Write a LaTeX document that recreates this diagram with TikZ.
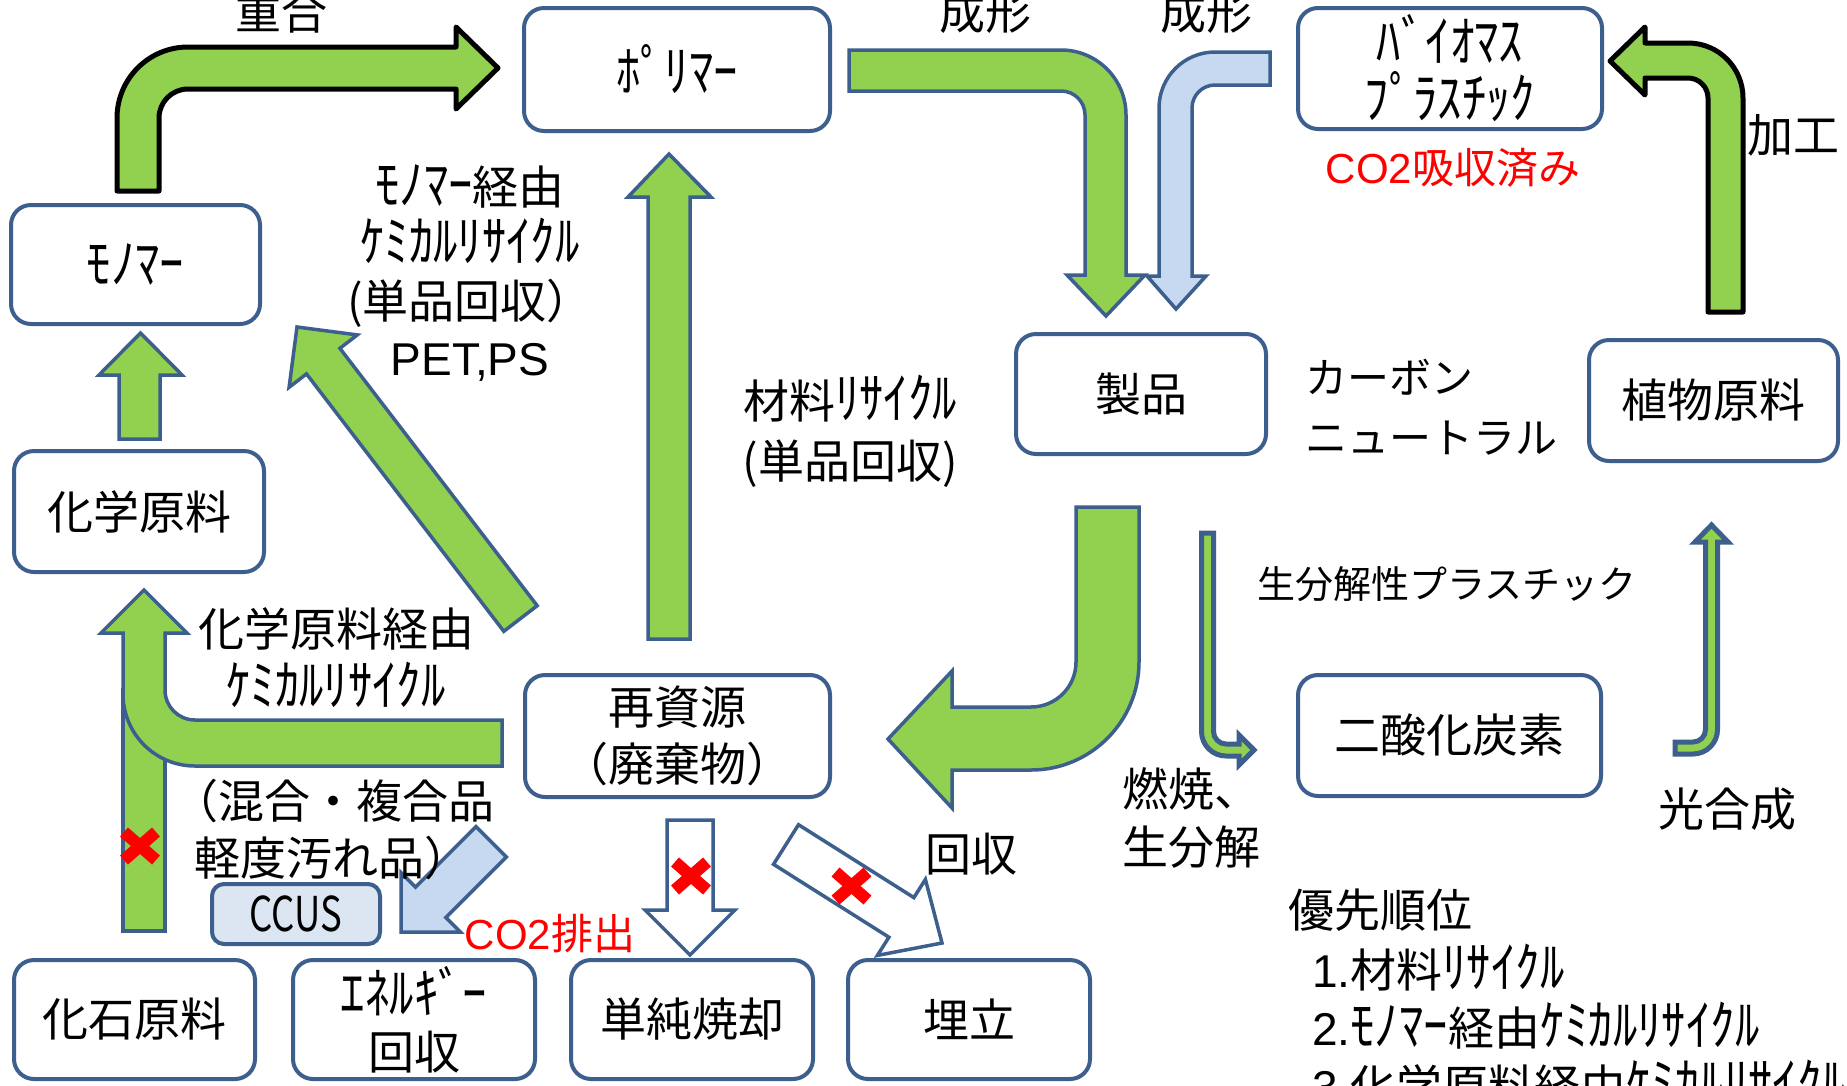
\documentclass[tikz,border=0pt]{standalone}
\usepackage{fontspec}
\usepackage{graphicx}
\setmainfont{Noto Sans CJK JP}
\newfontfamily\lat{Liberation Sans}
\definecolor{bd}{HTML}{3D5F8E}
\definecolor{gr}{HTML}{92D050}
\definecolor{lb}{HTML}{C6D9F1}
\definecolor{ccusfill}{HTML}{DCE6F2}
\newcommand\fsz[2]{\fontsize{#1}{#2}\selectfont}
\newcommand\hw[1]{\scalebox{1.06}[1.2]{#1}}
\begin{document}
\begin{tikzpicture}[x=1pt,y=-1pt,
  box/.style={draw=bd, line width=4pt, rounded corners=20pt, fill=white, inner sep=0pt, align=center, font=\fsz{46}{57}},
  lbl/.style={inner sep=0pt, align=center, font=\fsz{46}{57}},
  garrow/.style={draw=bd, fill=gr, line width=3.5pt, line join=miter},
  karrow/.style={draw=black, fill=gr, line width=5pt, line join=round},
  warrow/.style={draw=bd, fill=white, line width=3.5pt, line join=miter},
  barrow/.style={draw=bd, fill=lb, line width=3.5pt, line join=miter},
  xmark/.style={draw=red, line width=12pt},
]
\useasboundingbox (0,0) rectangle (1847,1085);
\fill[white] (0,0) rectangle (1847,1085);

% --- block arrows ---
% polymerisation (monomer -> polymer)
\draw[karrow] (117,191) -- (117,118) .. controls (117,78.8) and (148.8,47) .. (188,47) -- (456,47) -- (456,27) -- (498,68) -- (456,109) -- (456,89) -- (188,89) .. controls (172,89) and (159,102) .. (159,118) -- (159,191) -- cycle;
% moulding polymer -> product
\draw[garrow] (849,50) -- (1061,50) .. controls (1096.9,50) and (1126,79.1) .. (1126,115) -- (1126,275) -- (1145,275) -- (1106,316) -- (1067,275) -- (1085,275) -- (1085,115) .. controls (1085,101.7) and (1074.3,91) .. (1061,91) -- (849,91) -- cycle;
% moulding bioplastic -> product
\draw[barrow] (1270,52) -- (1215,52) .. controls (1184.1,52) and (1159,77.1) .. (1159,108) -- (1159,276) -- (1147,276) -- (1176,309) -- (1206,276) -- (1192,276) -- (1192,108) .. controls (1192,95.3) and (1202.3,85) .. (1215,85) -- (1270,85) -- cycle;
% processing plant -> bioplastic
\draw[karrow] (1708,312) -- (1708,98) .. controls (1708,87) and (1699,78) .. (1688,78) -- (1645,78) -- (1645,95) -- (1610,61) -- (1645,27) -- (1645,43) -- (1688,43) .. controls (1718.4,43) and (1743,67.6) .. (1743,98) -- (1743,312) -- cycle;
% collection product -> waste
\draw[garrow] (1076,507) -- (1139,507) -- (1139,662) .. controls (1139,721.6) and (1090.6,770) .. (1031,770) -- (952,770) -- (952,808) -- (888,739) -- (952,671) -- (952,707) -- (1031,707) .. controls (1055.9,707) and (1076,686.9) .. (1076,662) -- cycle;
% material recycling waste -> polymer
\draw[garrow] (648,639) -- (648,197) -- (628,197) -- (669,154) -- (711,197) -- (690,197) -- (690,639) -- cycle;
% monomer chemical recycling
\draw[garrow] (503.8,631.3) -- (306.5,373.9) -- (289.1,387.3) -- (297,327) -- (357.3,334.9) -- (339.9,348.3) -- (537.2,605.7) -- cycle;
% fossil -> chemical feedstock shaft
\draw[garrow] (123,931) -- (123,690) -- (165,690) -- (165,931) -- cycle;
% chemical feedstock recycling
\draw[garrow] (502,720) -- (195,720) .. controls (178.4,720) and (165,706.6) .. (165,690) -- (165,633) -- (187,633) -- (144,590) -- (101,633) -- (123,633) -- (123,694) .. controls (123,733.8) and (155.2,766) .. (195,766) -- (502,766) -- cycle;
% chemical feedstock -> monomer
\draw[garrow] (119,439) -- (119,375) -- (99,375) -- (140.5,333) -- (182,375) -- (160,375) -- (160,439) -- cycle;
% CCUS arrow
\draw[barrow] (476,826.6) -- (506.4,857) -- (445.9,917.5) -- (460.4,932) -- (401,932) -- (401,872.6) -- (415.5,887.1) -- cycle;
% incineration
\draw[warrow] (667,820) -- (713,820) -- (713,910) -- (735,910) -- (690,955) -- (645,910) -- (667,910) -- cycle;
% landfill
\draw[warrow] (798.5,824.7) -- (913.9,897.6) -- (925.4,879.4) -- (942,943) -- (877.4,955.4) -- (888.9,937.2) -- (773.5,864.3) -- cycle;
% thin arrows
\draw[garrow, line width=5pt] (1201.5,533) -- (1201.5,731.5) .. controls (1201.5,745) and (1212.5,756) .. (1226,756) -- (1239,756) -- (1239,765) -- (1254,750) -- (1239,735) -- (1239,744) -- (1226,744) .. controls (1219.1,744) and (1213.5,738.4) .. (1213.5,731.5) -- (1213.5,533) -- cycle;
\draw[garrow, line width=5pt] (1675,742) -- (1693,742) .. controls (1699.9,742) and (1705.5,736.4) .. (1705.5,729.5) -- (1705.5,542) -- (1695,542) -- (1711.5,525) -- (1728,542) -- (1717.5,542) -- (1717.5,729.5) .. controls (1717.5,743) and (1706.5,754) .. (1693,754) -- (1675,754) -- cycle;

% red crosses
\foreach \cx/\cy in {140/846, 691/876, 851.5/886}{
  \draw[xmark] (\cx-16,\cy-14) -- (\cx+16,\cy+14) (\cx-16,\cy+14) -- (\cx+16,\cy-14);
}

% --- boxes ---
\node[box, minimum width=306pt, minimum height=123pt] (poly) at (677,69.5) {\hw{ﾎﾟﾘﾏｰ}};
\node[box, minimum width=304pt, minimum height=121pt] (bio) at (1450,68.5) {\hw{ﾊﾞｲｵﾏｽ}\\\hw{ﾌﾟﾗｽﾁｯｸ}};
\node[box, minimum width=249pt, minimum height=119pt] (mono) at (135.5,264.5) {\hw{ﾓﾉﾏｰ}};
\node[box, minimum width=250pt, minimum height=120pt] (prod) at (1141,394) {製品};
\node[box, minimum width=249pt, minimum height=121pt] (plant) at (1713.5,400.5) {植物原料};
\node[box, minimum width=250pt, minimum height=121pt] (chem) at (139,511.5) {化学原料};
\node[box, minimum width=305pt, minimum height=122pt] (waste) at (677.5,736) {再資源\\（廃棄物）};
\node[box, minimum width=303pt, minimum height=121pt] (co2) at (1449.5,735.5) {二酸化炭素};
\node[box, fill=ccusfill, rounded corners=12pt, minimum width=168pt, minimum height=60pt] (ccus) at (296,914) {\fsz{48}{48}\scalebox{0.76}[1]{CCUS}};
\node[box, minimum width=241pt, minimum height=119pt] (fossil) at (134.5,1019.5) {化石原料};
\node[box, minimum width=242pt, minimum height=119pt, font=\fsz{46}{56}] (energy) at (414,1019.5) {\hw{ｴﾈﾙｷﾞｰ}\\回収};
\node[box, minimum width=242pt, minimum height=119pt] (incin) at (692,1019.5) {単純焼却};
\node[box, minimum width=242pt, minimum height=119pt] (land) at (969,1019.5) {埋立};

% --- labels ---
\node[lbl] (ljugo) at (281,12) {重合};
\node[lbl] (lseikei1) at (985,12) {成形};
\node[lbl] (lseikei2) at (1206,12) {成形};
\node[lbl, text=red, font=\fsz{42}{50}] (lco2abs) at (1453,168) {{\lat CO2}吸収済み};
\node[lbl] (lkako) at (1793,135) {加工};
\node[lbl] (lmono) at (470,273.5) {\hw{ﾓﾉﾏｰ}経由\\\hw{ｹﾐｶﾙﾘｻｲｸﾙ}\\(単品回収）\\{\lat PET,PS}};
\node[lbl, font=\fsz{46}{60}] (lmat) at (850,431) {材料\hw{ﾘｻｲｸﾙ}\\(単品回収)};
\node[lbl, align=left, anchor=west, font=\fsz{42}{60}] (lcn) at (1305,407) {カーボン\\ニュートラル};
\node[lbl, font=\fsz{38}{46}] (lbiodeg) at (1447,584) {生分解性プラスチック};
\node[lbl, font=\fsz{46}{59}] (lchemr) at (336,658) {化学原料経由\\\hw{ｹﾐｶﾙﾘｻｲｸﾙ}};
\node[lbl, align=left, anchor=west] (lmix) at (172,830) {（混合・複合品\\\hspace*{22pt}軽度汚れ品）};
\node[lbl, align=left, anchor=west, font=\fsz{46}{58}] (lburn) at (1122,818) {燃焼、\\生分解};
\node[lbl] (lphoto) at (1727,809) {光合成};
\node[lbl] (lkaishu) at (971,854) {回収};
\node[lbl, text=red, font=\fsz{42}{50}] (lco2em) at (550,934) {{\lat CO2}排出};
\node[lbl, anchor=west] (lprio) at (1288,910) {優先順位};
\node[lbl, align=left, anchor=west, font=\fsz{46}{58}] (llist) at (1312,1026) {{\lat 1.}材料\hw{ﾘｻｲｸﾙ}\\{\lat 2.}\hw{ﾓﾉﾏｰ}経由\hw{ｹﾐｶﾙﾘｻｲｸﾙ}\\{\lat 3.}化学原料経由\hw{ｹﾐｶﾙﾘｻｲｸﾙ}};
\end{tikzpicture}
\end{document}
